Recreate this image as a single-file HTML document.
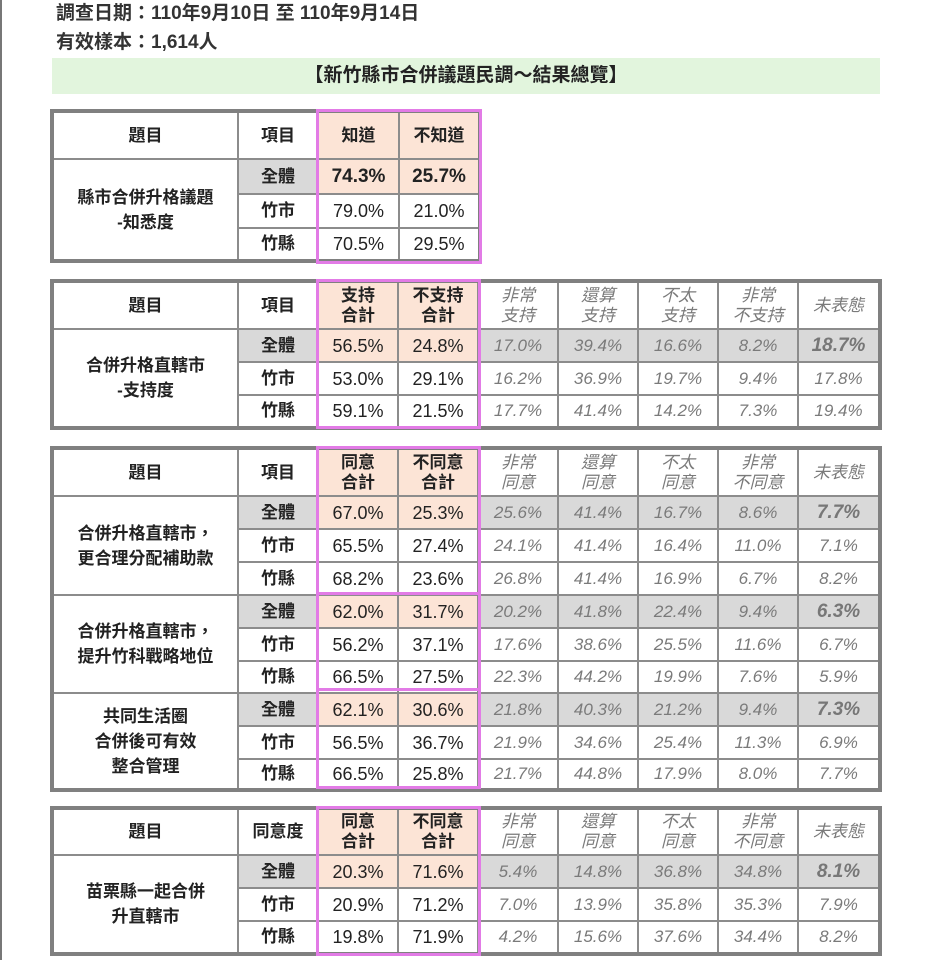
<!DOCTYPE html>
<html><head><meta charset="utf-8">
<style>
body{margin:0;width:927px;height:960px;background:#fff;position:relative;overflow:hidden;font-family:"Liberation Sans","Noto Sans CJK TC",sans-serif;color:#222}
.lb{position:absolute;left:0;top:0;width:2px;height:960px;background:#777}
.hd{position:absolute;left:56px;font-size:19px;font-weight:bold;color:#333}
.ban{position:absolute;left:52px;top:58px;width:828px;height:36px;background:#e2f5dd;text-align:center;line-height:36px;font-size:19px;font-weight:bold;color:#222}
table{position:absolute;border-collapse:collapse;border:4px solid #808080;table-layout:fixed}
td{border:2px solid #8c8c8c;text-align:center;padding:0;font-size:17px;line-height:20px}
td.q{font-weight:bold;font-size:17px;line-height:25px}
td.h{font-weight:bold;font-size:17px}
td.p{background:#fce4d6}
td.g{background:#d9d9d9}
td.i{font-style:italic;color:#7a7a7a}
td.it{font-style:italic;color:#777;font-weight:bold;font-size:19px}
td.n{font-size:18px}
td.b{font-weight:bold;font-size:19px}
.pk{position:absolute;border:3px solid #e27be6;box-sizing:border-box}
</style></head><body>
<div class="lb"></div>
<div class="hd" style="top:-2px">調查日期：110年9月10日 至 110年9月14日</div>
<div class="hd" style="top:27px">有效樣本：1,614人</div>
<div class="ban">【新竹縣市合併議題民調～結果總覽】</div>

<table style="left:50px;top:109px;width:432px">
<col style="width:186px"><col style="width:80px"><col style="width:81px"><col style="width:81px">
<tr style="height:48px"><td class="h">題目</td><td class="h">項目</td><td class="p h">知道</td><td class="p h">不知道</td></tr>
<tr style="height:35px"><td rowspan="3" class="q">縣市合併升格議題<br>-知悉度</td><td class="g h">全體</td><td class="p b">74.3%</td><td class="p b">25.7%</td></tr>
<tr style="height:34px"><td class="h">竹市</td><td class="n">79.0%</td><td class="n">21.0%</td></tr>
<tr style="height:33px"><td class="h">竹縣</td><td class="n">70.5%</td><td class="n">29.5%</td></tr>
</table>
<div class="pk" style="left:316px;top:109px;width:166px;height:155px"></div>

<table style="left:50px;top:279px;width:832px">
<col style="width:186px"><col style="width:80px"><col style="width:80px"><col style="width:80px"><col style="width:80px"><col style="width:80px"><col style="width:80px"><col style="width:80px"><col style="width:82px">
<tr style="height:48px"><td class="h">題目</td><td class="h">項目</td><td class="p h">支持<br>合計</td><td class="p h">不支持<br>合計</td><td class="i">非常<br>支持</td><td class="i">還算<br>支持</td><td class="i">不太<br>支持</td><td class="i">非常<br>不支持</td><td class="i">未表態</td></tr>
<tr style="height:33px"><td rowspan="3" class="q">合併升格直轄市<br>-支持度</td><td class="g h">全體</td><td class="p n">56.5%</td><td class="p n">24.8%</td><td class="g i">17.0%</td><td class="g i">39.4%</td><td class="g i">16.6%</td><td class="g i">8.2%</td><td class="g it">18.7%</td></tr>
<tr style="height:33px"><td class="h">竹市</td><td class="n">53.0%</td><td class="n">29.1%</td><td class="i">16.2%</td><td class="i">36.9%</td><td class="i">19.7%</td><td class="i">9.4%</td><td class="i">17.8%</td></tr>
<tr style="height:33px"><td class="h">竹縣</td><td class="n">59.1%</td><td class="n">21.5%</td><td class="i">17.7%</td><td class="i">41.4%</td><td class="i">14.2%</td><td class="i">7.3%</td><td class="i">19.4%</td></tr>
</table>
<div class="pk" style="left:316px;top:279px;width:165px;height:150px"></div>

<table style="left:50px;top:446px;width:832px">
<col style="width:186px"><col style="width:80px"><col style="width:80px"><col style="width:80px"><col style="width:80px"><col style="width:80px"><col style="width:80px"><col style="width:80px"><col style="width:82px">
<tr style="height:48px"><td class="h">題目</td><td class="h">項目</td><td class="p h">同意<br>合計</td><td class="p h">不同意<br>合計</td><td class="i">非常<br>同意</td><td class="i">還算<br>同意</td><td class="i">不太<br>同意</td><td class="i">非常<br>不同意</td><td class="i">未表態</td></tr>
<tr style="height:33px"><td rowspan="3" class="q">合併升格直轄市，<br>更合理分配補助款</td><td class="g h">全體</td><td class="p n">67.0%</td><td class="p n">25.3%</td><td class="g i">25.6%</td><td class="g i">41.4%</td><td class="g i">16.7%</td><td class="g i">8.6%</td><td class="g it">7.7%</td></tr>
<tr style="height:33px"><td class="h">竹市</td><td class="n">65.5%</td><td class="n">27.4%</td><td class="i">24.1%</td><td class="i">41.4%</td><td class="i">16.4%</td><td class="i">11.0%</td><td class="i">7.1%</td></tr>
<tr style="height:33px"><td class="h">竹縣</td><td class="n">68.2%</td><td class="n">23.6%</td><td class="i">26.8%</td><td class="i">41.4%</td><td class="i">16.9%</td><td class="i">6.7%</td><td class="i">8.2%</td></tr>
<tr style="height:33px"><td rowspan="3" class="q">合併升格直轄市，<br>提升竹科戰略地位</td><td class="g h">全體</td><td class="p n">62.0%</td><td class="p n">31.7%</td><td class="g i">20.2%</td><td class="g i">41.8%</td><td class="g i">22.4%</td><td class="g i">9.4%</td><td class="g it">6.3%</td></tr>
<tr style="height:33px"><td class="h">竹市</td><td class="n">56.2%</td><td class="n">37.1%</td><td class="i">17.6%</td><td class="i">38.6%</td><td class="i">25.5%</td><td class="i">11.6%</td><td class="i">6.7%</td></tr>
<tr style="height:32px"><td class="h">竹縣</td><td class="n">66.5%</td><td class="n">27.5%</td><td class="i">22.3%</td><td class="i">44.2%</td><td class="i">19.9%</td><td class="i">7.6%</td><td class="i">5.9%</td></tr>
<tr style="height:33px"><td rowspan="3" class="q">共同生活圈<br>合併後可有效<br>整合管理</td><td class="g h">全體</td><td class="p n">62.1%</td><td class="p n">30.6%</td><td class="g i">21.8%</td><td class="g i">40.3%</td><td class="g i">21.2%</td><td class="g i">9.4%</td><td class="g it">7.3%</td></tr>
<tr style="height:33px"><td class="h">竹市</td><td class="n">56.5%</td><td class="n">36.7%</td><td class="i">21.9%</td><td class="i">34.6%</td><td class="i">25.4%</td><td class="i">11.3%</td><td class="i">6.9%</td></tr>
<tr style="height:31px"><td class="h">竹縣</td><td class="n">66.5%</td><td class="n">25.8%</td><td class="i">21.7%</td><td class="i">44.8%</td><td class="i">17.9%</td><td class="i">8.0%</td><td class="i">7.7%</td></tr>
</table>
<div class="pk" style="left:316px;top:446px;width:165px;height:149px"></div>
<div class="pk" style="left:316px;top:592px;width:165px;height:99px"></div>
<div class="pk" style="left:316px;top:688px;width:165px;height:101px"></div>

<table style="left:50px;top:806px;width:832px">
<col style="width:186px"><col style="width:80px"><col style="width:80px"><col style="width:80px"><col style="width:80px"><col style="width:80px"><col style="width:80px"><col style="width:80px"><col style="width:82px">
<tr style="height:47px"><td class="h">題目</td><td class="h">同意度</td><td class="p h">同意<br>合計</td><td class="p h">不同意<br>合計</td><td class="i">非常<br>同意</td><td class="i">還算<br>同意</td><td class="i">不太<br>同意</td><td class="i">非常<br>不同意</td><td class="i">未表態</td></tr>
<tr style="height:33px"><td rowspan="3" class="q">苗栗縣一起合併<br>升直轄市</td><td class="g h">全體</td><td class="p n">20.3%</td><td class="p n">71.6%</td><td class="g i">5.4%</td><td class="g i">14.8%</td><td class="g i">36.8%</td><td class="g i">34.8%</td><td class="g it">8.1%</td></tr>
<tr style="height:33px"><td class="h">竹市</td><td class="n">20.9%</td><td class="n">71.2%</td><td class="i">7.0%</td><td class="i">13.9%</td><td class="i">35.8%</td><td class="i">35.3%</td><td class="i">7.9%</td></tr>
<tr style="height:33px"><td class="h">竹縣</td><td class="n">19.8%</td><td class="n">71.9%</td><td class="i">4.2%</td><td class="i">15.6%</td><td class="i">37.6%</td><td class="i">34.4%</td><td class="i">8.2%</td></tr>
</table>
<div class="pk" style="left:316px;top:806px;width:165px;height:150px"></div>
</body></html>
